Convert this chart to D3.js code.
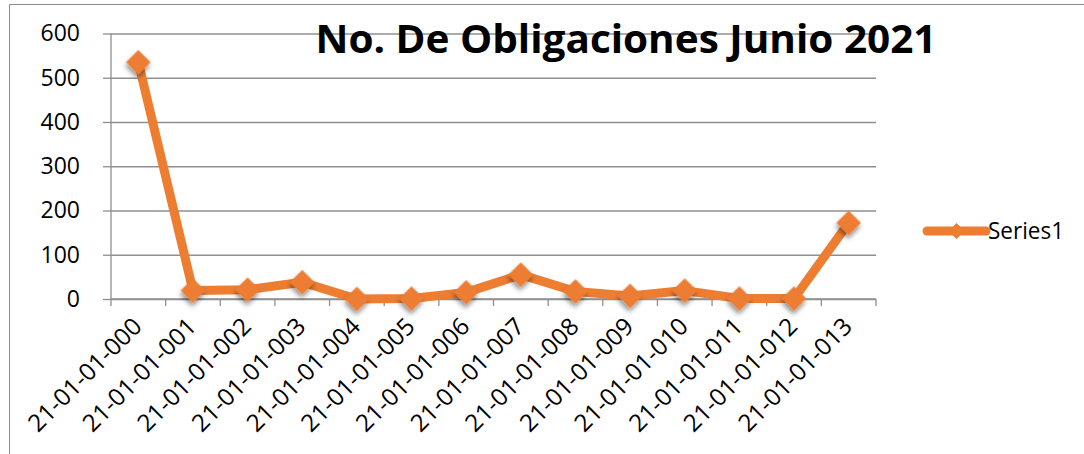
<!DOCTYPE html>
<html>
<head>
<meta charset="utf-8">
<script src="https://cdn.jsdelivr.net/npm/d3@7"></script>
<style>
  body { margin: 0; background: #fff; }
  svg { display: block; }
  svg text { font-family: "Open Sans", sans-serif; }
</style>
</head>
<body>
<svg id="chart" width="1084" height="454"></svg>
<script>
// chart data
const categories = ["21-01-01-000", "21-01-01-001", "21-01-01-002", "21-01-01-003", "21-01-01-004",
    "21-01-01-005", "21-01-01-006", "21-01-01-007", "21-01-01-008", "21-01-01-009",
    "21-01-01-010", "21-01-01-011", "21-01-01-012", "21-01-01-013"];
const values = [535, 19, 21, 38, 0, 1, 15, 55, 17, 7, 19, 1, 1, 172];
const yTicks = [0, 100, 200, 300, 400, 500, 600];
const seriesName = "Series1";
const title = "No. De Obligaciones Junio 2021";

const orange = "#ed7d31";
const svg = d3.select("#chart");

// outer frame (only top + left visible in the picture)
svg.append("path")
    .attr("d", "M9.5,460 V4.5 H1090")
    .attr("fill", "none")
    .attr("stroke", "#8c8c8c")
    .attr("stroke-width", 1);

const margin = { top: 33.5, left: 111, right: 876, bottom: 299 };

const x = d3.scaleBand()
    .domain(categories)
    .range([margin.left, margin.right]);

const y = d3.scaleLinear()
    .domain([0, 600])
    .range([margin.bottom, margin.top]);

// shadow for the markers
const defs = svg.append("defs");
const f = defs.append("filter").attr("id", "shadow")
    .attr("x", "-50%").attr("y", "-50%").attr("width", "200%").attr("height", "200%");
f.append("feDropShadow")
    .attr("dx", 2).attr("dy", 3)
    .attr("stdDeviation", 2.5)
    .attr("flood-color", "#000")
    .attr("flood-opacity", 0.45);

// gridlines
svg.append("g")
    .attr("transform", `translate(${margin.left},0)`)
    .call(d3.axisLeft(y).tickValues(yTicks).tickSize(-(margin.right - margin.left)).tickFormat(""))
    .call(g => g.select(".domain").remove())
    .call(g => g.selectAll("line").attr("stroke", "#8f8f8f").attr("stroke-width", 1.3));

// y axis
const yAxis = svg.append("g")
    .attr("transform", `translate(${margin.left},0)`)
    .call(d3.axisLeft(y).tickValues(yTicks).tickSize(8).tickPadding(23));
yAxis.attr("font-family", null).attr("font-size", null);
yAxis.select(".domain").attr("stroke", "#8f8f8f").attr("stroke-width", 1.3)
    .attr("d", `M0,${margin.top}V${margin.bottom}`);
yAxis.selectAll("line").attr("stroke", "#8f8f8f").attr("stroke-width", 1.3);
yAxis.selectAll("text")
    .attr("fill", "#000")
    .style("font-size", "23px");

// x axis line + ticks at band boundaries
const xAxis = svg.append("g");
xAxis.append("line")
    .attr("x1", margin.left).attr("x2", margin.right)
    .attr("y1", y(0)).attr("y2", y(0))
    .attr("stroke", "#8f8f8f").attr("stroke-width", 1.3);
const edges = categories.map(c => x(c)).concat([x.range()[1]]);
xAxis.selectAll(".tk")
    .data(edges)
    .join("line")
    .attr("class", "tk")
    .attr("x1", d => d).attr("x2", d => d)
    .attr("y1", y(0)).attr("y2", y(0) + 7)
    .attr("stroke", "#8f8f8f").attr("stroke-width", 1.3);

xAxis.selectAll(".lbl")
    .data(categories)
    .join("text")
    .attr("class", "lbl")
    .attr("text-anchor", "end")
    .attr("transform", d => `translate(${x(d) + x.bandwidth() / 2 - 1},${y(0) + 23}) rotate(-45)`)
    .attr("dy", "0.35em")
    .attr("textLength", 149)
    .attr("lengthAdjust", "spacingAndGlyphs")
    .style("font-size", "24px")
    .attr("fill", "#000")
    .text(d => d);

// series line
const pts = categories.map((c, i) => ({ c, v: values[i] }));
svg.append("path")
    .datum(pts)
    .attr("fill", "none")
    .attr("stroke", orange)
    .attr("stroke-width", 9)
    .attr("stroke-linejoin", "round")
    .attr("d", d3.line().x(d => x(d.c) + x.bandwidth() / 2).y(d => y(d.v)));

// diamond markers
const diamond = d3.symbol().type(d3.symbolSquare).size(300);
svg.selectAll(".mk")
    .data(pts)
    .join("path")
    .attr("class", "mk")
    .attr("d", diamond)
    .attr("transform", d => `translate(${x(d.c) + x.bandwidth() / 2},${y(d.v)}) rotate(45)`)
    .attr("fill", orange)
    .attr("filter", "url(#shadow)");

// title
svg.append("text")
    .attr("x", 626)
    .attr("y", 53)
    .attr("text-anchor", "middle")
    .attr("textLength", 621)
    .attr("lengthAdjust", "spacingAndGlyphs")
    .style("font-size", "40px")
    .style("font-weight", "bold")
    .attr("fill", "#000")
    .text(title);

// legend
const lg = svg.append("g").attr("transform", "translate(927,231)");
lg.append("line")
    .attr("x1", 0).attr("x2", 59)
    .attr("stroke", orange).attr("stroke-width", 9).attr("stroke-linecap", "round");
lg.append("path")
    .attr("d", d3.symbol().type(d3.symbolSquare).size(130))
    .attr("transform", "translate(29.5,0) rotate(45)")
    .attr("fill", orange);
lg.append("text")
    .attr("x", 61)
    .attr("y", 8)
    .attr("textLength", 76)
    .attr("lengthAdjust", "spacingAndGlyphs")
    .style("font-size", "23px")
    .attr("fill", "#000")
    .text(seriesName);
</script>
</body>
</html>
